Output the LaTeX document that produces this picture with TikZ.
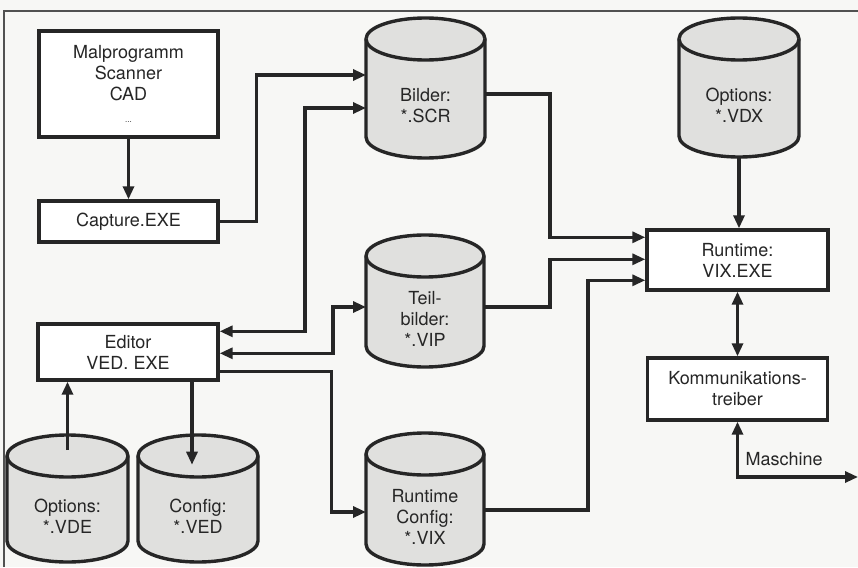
\documentclass[tikz,border=0pt]{standalone}
\usepackage{fontspec}
\setmainfont{TeX Gyre Heros}
\usetikzlibrary{arrows.meta,calc}
\definecolor{ink}{HTML}{262626}
\definecolor{paper}{HTML}{F7F7F5}
\definecolor{cylgray}{HTML}{E0E0DE}
\definecolor{txt}{HTML}{262626}
\def\cry{21}
\newcommand\cylshape[6]{% name, cx, top, bottom, half width, text
  \pgfmathsetmacro\cxl{#2-#5}%
  \pgfmathsetmacro\cxr{#2+#5}%
  \pgfmathsetmacro\cyt{#3+\cry}%
  \pgfmathsetmacro\cyb{#4-\cry}%
  \pgfmathsetmacro\kx{0.5523*#5}%
  \pgfmathsetmacro\ky{0.5523*\cry}%
  \pgfmathsetmacro\cmid{(#3+#4)/2}%
  \pgfmathsetmacro\ctxt{(#3+2*\cry+#4)/2-3}%
  \node[cylarea, minimum width={2*#5}, minimum height={#4-#3}] (#1) at (#2,\cmid) {};
  \filldraw[cylline] (\cxl,\cyt) -- (\cxl,\cyb)
    .. controls (\cxl,\cyb+\ky) and (#2-\kx,\cyb+\cry) .. (#2,\cyb+\cry)
    .. controls (#2+\kx,\cyb+\cry) and (\cxr,\cyb+\ky) .. (\cxr,\cyb)
    -- (\cxr,\cyt)
    .. controls (\cxr,\cyt-\ky) and (#2+\kx,\cyt-\cry) .. (#2,\cyt-\cry)
    .. controls (#2-\kx,\cyt-\cry) and (\cxl,\cyt-\ky) .. (\cxl,\cyt) -- cycle;
  \draw[cylline] (\cxl,\cyt)
    .. controls (\cxl,\cyt+\ky) and (#2-\kx,\cyt+\cry) .. (#2,\cyt+\cry)
    .. controls (#2+\kx,\cyt+\cry) and (\cxr,\cyt+\ky) .. (\cxr,\cyt);
  \node[cyltxt] (#1-t) at (#2,\ctxt) {#6};
}
\begin{document}
\begin{tikzpicture}[x=1pt,y=-1pt,
  Tri/.tip={Triangle[length=13pt,width=11pt]},
  box/.style={draw=ink, line width=3.4pt, fill=white, inner sep=0pt,
    align=center, text=txt, font=\fontsize{18}{21}\selectfont},
  cylarea/.style={inner sep=0pt, outer sep=0pt},
  cylline/.style={draw=ink, line width=3.4pt, fill=cylgray},
  cyltxt/.style={align=center, text=txt, inner sep=0pt, font=\fontsize{18}{21}\selectfont},
  conn/.style={draw=ink, line width=3.1pt, -Tri},
  bidir/.style={draw=ink, line width=3.1pt, Tri-Tri},
  lbl/.style={text=txt, inner sep=0pt, font=\fontsize{18}{21}\selectfont}]
\useasboundingbox (0,0) rectangle (858,567);
\fill[paper] (0,0) rectangle (858,567);
\draw[ink!80, line width=1.2pt] (4,567) -- (4,11) -- (858,11);

% boxes
\node[box, minimum width=179pt, minimum height=106pt] (mal) at (128.5,84)
  {Malprogramm\\Scanner\\CAD\\[1pt]{\fontsize{8}{8}\selectfont ...}};
\node[box, minimum width=179pt, minimum height=41pt] (capt) at (128.5,221.5) {Capture.EXE};
\node[box, minimum width=180pt, minimum height=56pt] (editor) at (128,352) {Editor\\VED. EXE};
\node[box, minimum width=181pt, minimum height=60pt] (runtime) at (737.5,260) {Runtime:\\VIX.EXE};
\node[box, minimum width=180pt, minimum height=62pt] (komm) at (737.5,389) {Kommunikations-\\treiber};

% cylinders
\cylshape{bilder}{425.5}{18}{158}{59.5}{Bilder:\\*.SCR}
\cylshape{vdx}{739}{18}{157}{60}{Options:\\*.VDX}
\cylshape{teil}{425}{235}{367}{59}{Teil-\\bilder:\\*.VIP}
\cylshape{rtcfg}{425}{433}{565}{59}{Runtime\\Config:\\*.VIX}
\cylshape{vde}{67.5}{435}{562}{60.5}{Options:\\*.VDE}
\cylshape{ved}{198}{435}{562}{60}{Config:\\*.VED}

% connectors
\draw[conn] (mal.south) -- (capt.north);
\draw[conn] (capt.east) -- ++(37,0) |- ($(bilder.north west)+(0,57)$);
\draw[bidir] ($(bilder.north west)+(0,90)$) -- ++(-61,0) |- ($(editor.north east)+(0,9)$);
\draw[bidir] ($(teil.north west)+(0,72)$) -- ++(-33,0) |- ($(editor.north east)+(0,31)$);
\draw[conn] ($(editor.north east)+(0,49)$) -- ++(112,0) |- ($(rtcfg.north west)+(0,79)$);
\draw[conn] ($(bilder.north east)+(0,76)$) -- ++(65,0) |- ($(runtime.north west)+(0,9)$);
\draw[conn] ($(teil.north east)+(0,72)$) -- ++(66,0) |- ($(runtime.north west)+(0,31)$);
\draw[conn] ($(rtcfg.north east)+(0,77)$) -- ++(104,0) |- ($(runtime.north west)+(0,52)$);
\draw[conn] (vdx.south) -- (vdx.south |- runtime.north);
\draw[bidir] (runtime.south) -- (komm.north);
\draw[conn] ($(vde.north)+(0,15)$) -- (vde.north |- editor.south);
\draw[conn] ($(editor.south)+(64,0)$) -- ($(editor.south)+(64,83)$);
\coordinate (mright) at (858,477);
\draw[bidir] (komm.south) |- (mright);
\node[lbl, anchor=west] (masch) at ($(komm.south)+(8,37)$) {Maschine};
\end{tikzpicture}
\end{document}
